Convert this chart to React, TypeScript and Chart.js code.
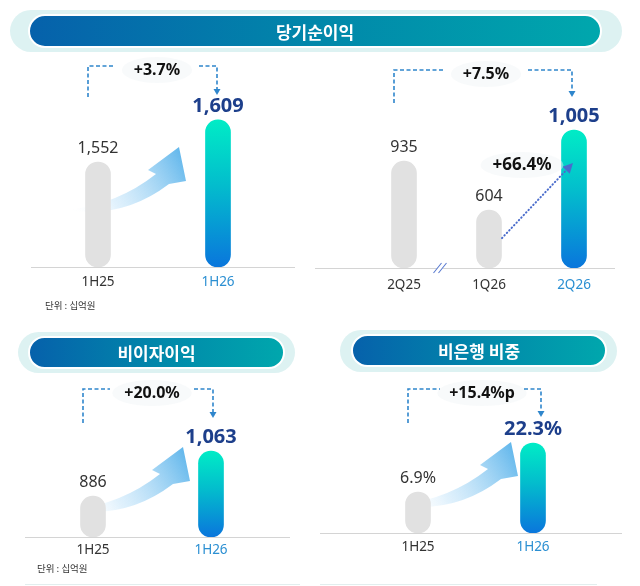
import { useEffect, useRef } from "react"
import { Chart, registerables, type ChartConfiguration, type Plugin, type ScriptableContext } from "chart.js"

Chart.register(...registerables)

const FONT = '"Noto Sans", "Noto Sans CJK KR", sans-serif'
const KR_FONT = '"Noto Sans CJK KR", "Noto Sans", sans-serif'

// 당기순이익 - 반기 (십억원)
const halfLabels = ["1H25", "1H26"]
const netIncomeHalf = [1552, 1609]
// 당기순이익 - 분기 (십억원)
const quarterLabels = ["2Q25", "1Q26", "2Q26"]
const netIncomeQuarter = [935, 604, 1005]
// 비이자이익 (십억원)
const nonInterestLabels = ["1H25", "1H26"]
const nonInterestIncome = [886, 1063]
// 비은행 비중 (%)
const nonBankLabels = ["1H25", "1H26"]
const nonBankShare = [6.9, 22.3]

// 증감률
const changeTexts = ["+3.7%", "+7.5%", "+20.0%", "+15.4%p"]
const qoqText = "+66.4%"
const unitText = "단위 : 십억원"

const GRAY = "#e1e1e1"
const DASH = "#2f86cc"
const NAVY = "#1d3f8b"
const LABEL_BLUE = "#2b8fd2"

const comma = (v: number) => v.toLocaleString("en-US")
const pct = (v: number) => `${v.toFixed(1)}%`

interface Panel {
  labels: string[]
  values: number[]
  fmt: (v: number) => string
  range: [number, number]
  splitRange?: [number, number] // 첫 막대만 별도 축 (축 생략 표시)
  area: [number, number, number, number] // left, top, right, bottom
  axisLine: [number, number]
  change: string
  bracket: { top: number; leftDx: number; leftBottom: number; rightDx: number; tipY: number; labelDx: number }
  curve?: [number, number]
  unitAt?: [number, number]
  footLine?: [number, number]
  tickGap: number
  qoq?: string
}

const panels: Panel[] = [
  {
    labels: halfLabels,
    values: netIncomeHalf,
    fmt: comma,
    range: [1410, 1640],
    area: [38, 97, 278, 267],
    axisLine: [31, 295],
    change: changeTexts[0],
    bracket: { top: 66, leftDx: -10, leftBottom: 97, rightDx: -1, tipY: 95, labelDx: -1 },
    curve: [-30, -57],
    unitAt: [45, 305],
    tickGap: 15,
  },
  {
    labels: quarterLabels,
    values: netIncomeQuarter,
    fmt: comma,
    range: [314, 1100],
    splitRange: [400, 1186],
    area: [361.5, 111, 616.5, 268],
    axisLine: [315, 615],
    change: changeTexts[1],
    bracket: { top: 70, leftDx: -10, leftBottom: 103, rightDx: -2, tipY: 97, labelDx: -3 },
    tickGap: 17,
    qoq: qoqText,
  },
  {
    labels: nonInterestLabels,
    values: nonInterestIncome,
    fmt: comma,
    range: [725, 1100],
    area: [34, 441.7, 270, 537],
    axisLine: [25, 290],
    change: changeTexts[2],
    bracket: { top: 389, leftDx: -10, leftBottom: 423, rightDx: 2, tipY: 418, labelDx: 0 },
    curve: [-21, -27],
    unitAt: [37, 568],
    footLine: [25, 300],
    tickGap: 13,
  },
  {
    labels: nonBankLabels,
    values: nonBankShare,
    fmt: pct,
    range: [-6, 25],
    area: [360.5, 434.4, 590.5, 533],
    axisLine: [320, 622],
    change: changeTexts[3],
    bracket: { top: 389, leftDx: -10, leftBottom: 423, rightDx: 8, tipY: 417, labelDx: 6.5 },
    curve: [-18, -28],
    footLine: [320, 597],
    tickGap: 14,
  },
]

const headers = [
  { title: "당기순이익", outer: [10, 10, 612, 42], inner: [28, 14, 574, 34] },
  { title: "비이자이익", outer: [18, 332, 277, 41], inner: [28, 336, 257, 33] },
  { title: "비은행 비중", outer: [340, 330, 277, 42], inner: [351, 334, 256, 33] },
]

function labelBg(ctx: CanvasRenderingContext2D, text: string, x: number, y: number) {
  const w = ctx.measureText(text).width
  ctx.save()
  ctx.fillStyle = "rgba(240, 243, 246, 0.45)"
  ctx.beginPath()
  ctx.ellipse(x, y, w / 2 + 12, 13, 0, 0, Math.PI * 2)
  ctx.fill()
  ctx.restore()
}

function decoPlugin(p: Panel): Plugin<"bar"> {
  const pos = (chart: Chart, i: number) => {
    const y = chart.scales[p.splitRange && i === 0 ? "y2" : "y"]
    return { x: chart.scales.x.getPixelForValue(i), top: y.getPixelForValue(p.values[i]) }
  }
  return {
    id: "deco",
    beforeDatasetsDraw(chart) {
      const ctx = chart.ctx
      const base = chart.chartArea.bottom
      ctx.save()
      ctx.strokeStyle = "#d4d4d4"
      ctx.lineWidth = 1
      ctx.beginPath()
      ctx.moveTo(p.axisLine[0], base + 0.5)
      ctx.lineTo(p.axisLine[1], base + 0.5)
      ctx.stroke()
      if (p.footLine) {
        ctx.strokeStyle = "#e2eeee"
        ctx.beginPath()
        ctx.moveTo(p.footLine[0], 584.5)
        ctx.lineTo(p.footLine[1], 584.5)
        ctx.stroke()
      }
      // 곡선 화살표
      if (p.curve) {
        const first = pos(chart, 0)
        const tx = first.x + p.curve[0]
        const ty = base + p.curve[1]
        const g = ctx.createLinearGradient(tx, ty, tx + 110, ty - 62)
        g.addColorStop(0, "rgba(255,255,255,0)")
        g.addColorStop(0.35, "rgba(200,230,250,0.55)")
        g.addColorStop(1, "rgba(100,184,236,1)")
        ctx.fillStyle = g
        ctx.beginPath()
        ctx.moveTo(tx, ty)
        ctx.quadraticCurveTo(tx + 50, ty - 6, tx + 88, ty - 36)
        ctx.lineTo(tx + 80, ty - 40)
        ctx.lineTo(tx + 111, ty - 63)
        ctx.lineTo(tx + 118, ty - 29)
        ctx.lineTo(tx + 101, ty - 26)
        ctx.quadraticCurveTo(tx + 55, ty + 9, tx, ty)
        ctx.closePath()
        ctx.fill()
      }
      ctx.restore()
    },
    afterDatasetsDraw(chart) {
      const ctx = chart.ctx
      const base = chart.chartArea.bottom
      const n = p.values.length
      ctx.save()
      ctx.textAlign = "center"
      ctx.textBaseline = "middle"

      // 값 라벨, 항목 라벨
      p.values.forEach((v, i) => {
        const b = pos(chart, i)
        const isLast = i === n - 1
        ctx.font = isLast ? `bold 20px ${FONT}` : `16px ${FONT}`
        ctx.fillStyle = isLast ? NAVY : "#333"
        ctx.fillText(p.fmt(v), b.x, b.top - 14)
        ctx.font = `13.5px ${FONT}`
        ctx.fillStyle = isLast ? LABEL_BLUE : "#333"
        ctx.fillText(p.labels[i], b.x, base + p.tickGap)
      })

      // 증감 브래킷
      const bk = p.bracket
      const first = pos(chart, 0)
      const last = pos(chart, n - 1)
      const lx = first.x + bk.leftDx
      const rx = last.x + bk.rightDx
      const cx = (first.x + last.x) / 2 + bk.labelDx
      ctx.font = `bold 16px ${FONT}`
      labelBg(ctx, p.change, cx, bk.top + 4)
      ctx.strokeStyle = DASH
      ctx.lineWidth = 1.6
      ctx.setLineDash([4, 2.5])
      ctx.beginPath()
      ctx.moveTo(lx, bk.leftBottom)
      ctx.lineTo(lx, bk.top)
      ctx.lineTo(cx - 42, bk.top)
      ctx.moveTo(cx + 42, bk.top)
      ctx.lineTo(rx, bk.top)
      ctx.lineTo(rx, bk.tipY - 5)
      ctx.stroke()
      ctx.setLineDash([])
      ctx.fillStyle = DASH
      ctx.beginPath()
      ctx.moveTo(rx - 3.5, bk.tipY - 6)
      ctx.lineTo(rx + 3.5, bk.tipY - 6)
      ctx.lineTo(rx, bk.tipY)
      ctx.closePath()
      ctx.fill()
      ctx.fillStyle = "#111"
      ctx.fillText(p.change, cx, bk.top + 4)

      // 단위
      if (p.unitAt) {
        ctx.textAlign = "left"
        ctx.font = `9.5px ${KR_FONT}`
        ctx.fillStyle = "#333"
        ctx.fillText(unitText, p.unitAt[0], p.unitAt[1])
        ctx.textAlign = "center"
      }

      // 축 생략 표시
      if (p.splitRange) {
        const bx = (pos(chart, 0).x + pos(chart, 1).x) / 2 - 6
        ctx.strokeStyle = "#fff"
        ctx.lineWidth = 4
        ctx.beginPath()
        ctx.moveTo(bx - 5, base + 5)
        ctx.lineTo(bx + 5, base - 5)
        ctx.stroke()
        ctx.strokeStyle = "#5a7bd0"
        ctx.lineWidth = 1.1
        ctx.beginPath()
        ctx.moveTo(bx - 7, base + 5)
        ctx.lineTo(bx + 1, base - 5)
        ctx.moveTo(bx - 2, base + 5)
        ctx.lineTo(bx + 6, base - 5)
        ctx.stroke()
      }

      // 전분기 대비 점선 화살표
      if (p.qoq) {
        const a = pos(chart, n - 2)
        const z = pos(chart, n - 1)
        const sx = a.x + 13
        const sy = a.top + 28
        const ex = z.x - 1
        const ey = z.top + 33
        const ang = Math.atan2(ey - sy, ex - sx)
        const head = 10
        ctx.strokeStyle = "#4a6ccc"
        ctx.lineWidth = 2
        ctx.lineCap = "round"
        ctx.setLineDash([0.5, 3])
        ctx.beginPath()
        ctx.moveTo(sx, sy)
        ctx.lineTo(ex - Math.cos(ang) * head, ey - Math.sin(ang) * head)
        ctx.stroke()
        ctx.setLineDash([])
        ctx.fillStyle = "#4a6ccc"
        ctx.beginPath()
        ctx.moveTo(ex, ey)
        ctx.lineTo(ex - Math.cos(ang) * head - Math.sin(ang) * 5, ey - Math.sin(ang) * head + Math.cos(ang) * 5)
        ctx.lineTo(ex - Math.cos(ang) * head + Math.sin(ang) * 5, ey - Math.sin(ang) * head - Math.cos(ang) * 5)
        ctx.closePath()
        ctx.fill()
        ctx.font = `bold 17px ${FONT}`
        labelBg(ctx, p.qoq, ex - 51, ey + 2)
        ctx.fillStyle = "#111"
        ctx.fillText(p.qoq, ex - 51, ey + 2)
      }
      ctx.restore()
    },
  }
}

function PanelChart({ panel }: { panel: Panel }) {
  const chartRef = useRef<HTMLCanvasElement>(null)
  const chartInstance = useRef<Chart | null>(null)

  useEffect(() => {
    if (!chartRef.current) return
    const ctx = chartRef.current.getContext("2d")
    if (!ctx) return
    if (chartInstance.current) chartInstance.current.destroy()

    const [min, max] = panel.range
    const split = panel.splitRange
    const lastIdx = panel.values.length - 1
    const [left, top, right, bottom] = panel.area

    // 마지막 막대는 그라데이션
    const fill = (c: ScriptableContext<"bar">) => {
      if (c.dataIndex !== lastIdx) return GRAY
      const area = c.chart.chartArea
      if (!area) return "#0a76dc"
      const t = c.chart.scales.y.getPixelForValue(panel.values[lastIdx])
      const g = c.chart.ctx.createLinearGradient(0, t, 0, area.bottom)
      g.addColorStop(0, "#00ecc6")
      g.addColorStop(0.45, "#03bccd")
      g.addColorStop(1, "#0a76dc")
      return g
    }
    const common = {
      backgroundColor: fill,
      borderRadius: 13,
      borderSkipped: false as const,
      barThickness: 25,
      grouped: false,
    }
    const datasets = split
      ? [
          { ...common, data: panel.values.map((v, i) => (i === 0 ? v : null)), yAxisID: "y2", base: split[0] },
          { ...common, data: panel.values.map((v, i) => (i === 0 ? null : v)), yAxisID: "y", base: min },
        ]
      : [{ ...common, data: panel.values, yAxisID: "y", base: min }]

    const scales: Record<string, object> = {
      x: { type: "category", display: false },
      y: { type: "linear", display: false, min, max },
    }
    if (split) scales.y2 = { type: "linear", display: false, min: split[0], max: split[1], position: "right" }

    const config: ChartConfiguration<"bar"> = {
      type: "bar",
      data: { labels: panel.labels, datasets: datasets as never },
      options: {
        responsive: false,
        animation: false,
        events: [],
        layout: { padding: { left, top, right: 640 - right, bottom: 586 - bottom } },
        plugins: { legend: { display: false }, tooltip: { enabled: false } },
        scales: scales as never,
      },
      plugins: [decoPlugin(panel)],
    }

    chartInstance.current = new Chart(ctx, config)
    return () => {
      if (chartInstance.current) {
        chartInstance.current.destroy()
        chartInstance.current = null
      }
    }
  }, [panel])

  return (
    <canvas
      ref={chartRef}
      width={640}
      height={586}
      style={{ position: "absolute", left: 0, top: 0, width: 640, height: 586 }}
    />
  )
}

function Header({ title, outer, inner }: { title: string; outer: number[]; inner: number[] }) {
  return (
    <>
      <div
        style={{
          position: "absolute",
          left: outer[0],
          top: outer[1],
          width: outer[2],
          height: outer[3],
          borderRadius: 999,
          background: "#ddf2f2",
        }}
      />
      <div
        style={{
          position: "absolute",
          left: inner[0],
          top: inner[1],
          width: inner[2],
          height: inner[3],
          boxSizing: "border-box",
          border: "2px solid #fff",
          borderRadius: 999,
          background: "linear-gradient(90deg, #0661ab 0%, #0187aa 50%, #00a7ad 100%)",
          color: "#fff",
          fontFamily: KR_FONT,
          fontWeight: 700,
          fontSize: 17,
          display: "flex",
          alignItems: "center",
          justifyContent: "center",
        }}
      >
        {title}
      </div>
    </>
  )
}

export default function App() {
  return (
    <div
      style={{
        position: "absolute",
        left: 0,
        top: 0,
        width: 640,
        height: 586,
        background: "#fff",
        overflow: "hidden",
      }}
    >
      {panels.map((p, i) => (
        <PanelChart key={i} panel={p} />
      ))}
      {headers.map((h) => (
        <Header key={h.title} title={h.title} outer={h.outer} inner={h.inner} />
      ))}
    </div>
  )
}
